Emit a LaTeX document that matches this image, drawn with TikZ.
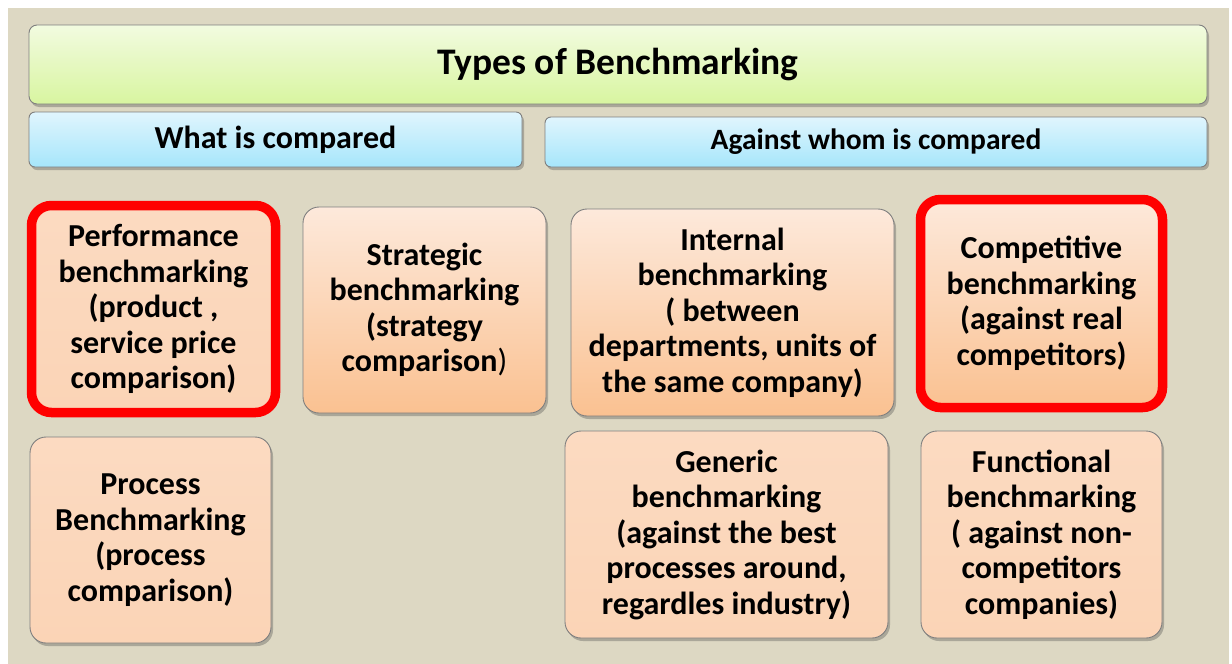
\documentclass[tikz,border=0pt]{standalone}
\usepackage{fontspec}
\setmainfont{Carlito}
\usetikzlibrary{shadows}
\definecolor{bgbeige}{HTML}{DDD8C3}
\definecolor{greentop}{HTML}{F2FBE0}
\definecolor{greenbot}{HTML}{D8F5A0}
\definecolor{bluetop}{HTML}{E0F5FD}
\definecolor{bluebot}{HTML}{A6E6FB}
\definecolor{ortop}{HTML}{FDE9DB}
\definecolor{orbot}{HTML}{FAC191}
\definecolor{orflat}{HTML}{FBD4B6}
\definecolor{edgegray}{HTML}{7F7F7F}
\definecolor{hotred}{HTML}{FF0000}
\tikzset{
  shade/.style={drop shadow={shadow xshift=2pt,shadow yshift=-3pt,opacity=0.35,fill=black!70}},
  titlebox/.style={shade,draw=edgegray,line width=0.9pt,rounded corners=8pt,top color=greentop,bottom color=greenbot,font=\fontsize{37.5}{42}\selectfont\bfseries},
  headbox/.style={shade,draw=edgegray,line width=0.9pt,rounded corners=6pt,top color=bluetop,bottom color=bluebot},
  cardbox/.style={shade,draw=edgegray,line width=0.9pt,rounded corners=16pt,align=center,font=\fontsize{32}{35.5}\selectfont\bfseries,inner sep=0pt},
  gradcard/.style={cardbox,top color=ortop,bottom color=orbot},
  flatcard/.style={cardbox,top color=orflat!70!ortop,bottom color=orflat},
  redcard/.style={line width=9.5pt,draw=hotred,rounded corners=20pt},
}
\begin{document}
\begin{tikzpicture}[x=1pt,y=-1pt]
\useasboundingbox (0,0) rectangle (1232,664);
\fill[white] (0,0) rectangle (1232,664);
\fill[bgbeige] (8,8) rectangle (1229,664);

\node[titlebox,minimum width=1178pt,minimum height=79pt] (title) at (618,64.5) {Types of Benchmarking};
\node[headbox,minimum width=493pt,minimum height=55pt,font=\fontsize{32}{36}\selectfont\bfseries] (what) at (275.5,139.5) {What is compared};
\node[headbox,minimum width=662pt,minimum height=50pt,font=\fontsize{29.5}{34}\selectfont\bfseries] (whom) at (876,142) {Against whom is compared};

\node[flatcard,redcard,minimum width=244pt,minimum height=207pt] (perf) at (153.5,309)
  {Performance\\benchmarking\\(product ,\\service price\\comparison)};
\node[gradcard,minimum width=243pt,minimum height=206pt] (strat) at (424.5,310)
  {Strategic\\benchmarking\\ (strategy\\comparison{\mdseries)}};
\node[gradcard,minimum width=323pt,minimum height=207pt] (intern) at (732.5,312.5)
  {Internal\\benchmarking\\ ( between\\departments, units of\\the same company)};
\node[gradcard,redcard,minimum width=242pt,minimum height=208pt] (compet) at (1041.5,303.5)
  {Competitive\\benchmarking\\(against real\\competitors)};
\node[flatcard,minimum width=241pt,minimum height=206pt] (proc) at (150.5,540)
  {Process\\Benchmarking\\(process\\comparison)};
\node[flatcard,minimum width=323pt,minimum height=207pt] (gener) at (726.5,534.5)
  {Generic\\benchmarking\\ (against the best\\processes around,\\regardles industry)};
\node[flatcard,minimum width=241pt,minimum height=207pt] (func) at (1041.5,534.5)
  {Functional\\benchmarking\\( against non-\\competitors\\companies)};
\end{tikzpicture}
\end{document}
